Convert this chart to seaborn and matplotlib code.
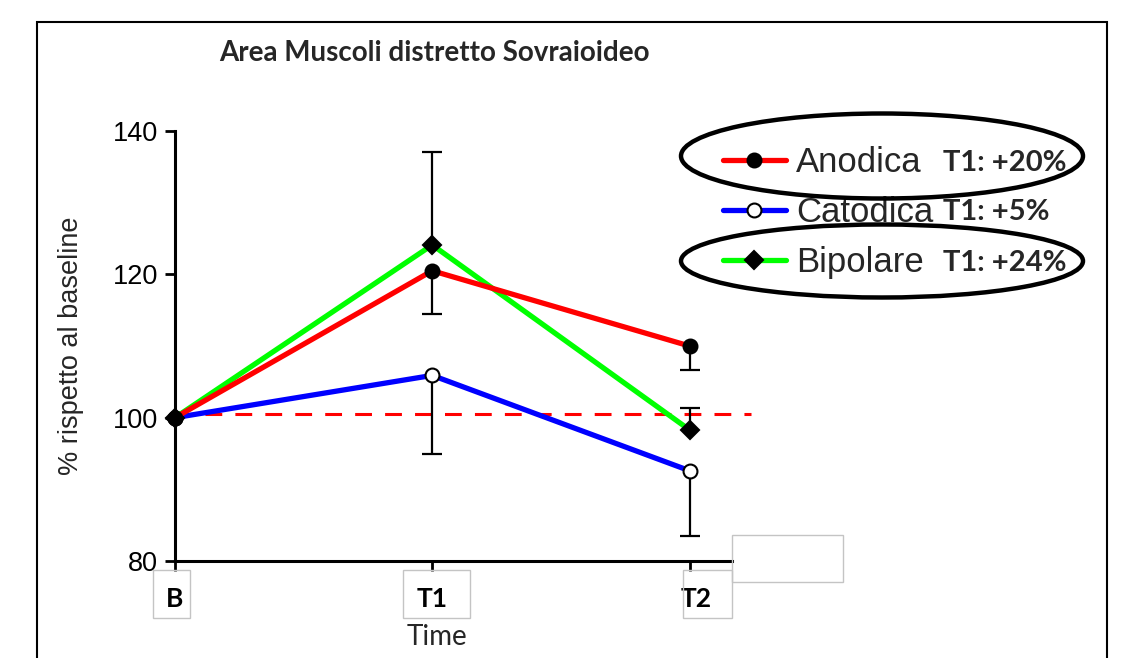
"""
plot.py

Area Muscoli distretto Sovraioideo - % rispetto al baseline per i tre
tipi di stimolazione (Anodica, Catodica, Bipolare) ai tempi B, T1, T2.

Run:
-----
python plot.py
"""

# =============================================================================
# IMPORTS
# =============================================================================

import numpy as np
import pandas as pd

import matplotlib.pyplot as plt
from matplotlib.patches import Ellipse, Rectangle
import seaborn as sns


# =============================================================================
# DATA
# =============================================================================

time_labels = ["B", "T1", "T2"]

anodica = [100.0, 120.5, 110.0]
catodica = [100.0, 105.9, 92.6]
bipolare = [100.0, 124.1, 98.3]

# one-sided error bars as drawn in the original (0 = not shown)
anodica_err_low = [0.0, 6.0, 3.4]
anodica_err_up = [0.0, 0.0, 0.0]
catodica_err_low = [0.0, 10.9, 9.1]
catodica_err_up = [0.0, 0.0, 0.0]
bipolare_err_low = [0.0, 0.0, 0.0]
bipolare_err_up = [0.0, 13.0, 3.0]

baseline_x = [0.0, 2.24]
baseline_y = [100.5, 100.5]

t1_notes = ["T1: +20%", "T1: +5%", "T1: +24%"]


# =============================================================================
# CONFIGURATION
# =============================================================================

sns.set_style("ticks")
plt.rcParams["font.family"] = ["Liberation Sans", "DejaVu Sans"]

TITLE_FONT = ["Lato", "DejaVu Sans"]

x_pos = np.arange(len(time_labels))

# small horizontal nudge of the T2 label, as in the original
label_nudge = np.array([0.0, 0.0, 0.027])

df = pd.DataFrame({
    "x": np.tile(x_pos, 3),
    "value": anodica + catodica + bipolare,
    "group": ["Anodica"] * 3 + ["Catodica"] * 3 + ["Bipolare"] * 3,
})

styles = {
    "Anodica": dict(color="#ff0000", marker="o", mfc="black", ms=10),
    "Catodica": dict(color="#0000ff", marker="o", mfc="white", ms=10),
    "Bipolare": dict(color="#00ff00", marker="D", mfc="black", ms=9),
}

errors = {
    "Anodica": (anodica_err_low, anodica_err_up),
    "Catodica": (catodica_err_low, catodica_err_up),
    "Bipolare": (bipolare_err_low, bipolare_err_up),
}


# =============================================================================
# FIGURE
# =============================================================================

fig = plt.figure(figsize=(11.28, 6.58), dpi=100)
ax = fig.add_axes([0.1551, 0.1474, 0.4938, 0.6535])

# error bars (below the lines): stems, then caps only where shown
for name in ["Catodica", "Bipolare", "Anodica"]:
    sub = df[df["group"] == name]
    low = np.array(errors[name][0])
    up = np.array(errors[name][1])
    xs = sub["x"].to_numpy()
    ys = sub["value"].to_numpy()
    ax.errorbar(xs, ys, yerr=[low, up], fmt="none", ecolor="black",
                elinewidth=1.6, capsize=0, zorder=2)
    ax.plot(xs[low > 0], (ys - low)[low > 0], linestyle="none",
            marker="_", markersize=14, markeredgewidth=1.6,
            color="black", zorder=2)
    ax.plot(xs[up > 0], (ys + up)[up > 0], linestyle="none",
            marker="_", markersize=14, markeredgewidth=1.6,
            color="black", zorder=2)

# lines with markers
for name in ["Catodica", "Bipolare", "Anodica"]:
    st = styles[name]
    sns.lineplot(
        data=df[df["group"] == name], x="x", y="value",
        ax=ax, color=st["color"], linewidth=3.8,
        marker=st["marker"], markersize=st["ms"],
        markerfacecolor=st["mfc"], markeredgecolor="black",
        markeredgewidth=1.5, label=name, legend=False,
        zorder=3, clip_on=False
    )

# dashed baseline
ax.plot(baseline_x, baseline_y, color="#ff0000", linewidth=2.2,
        dashes=(5.5, 4.3), zorder=1, clip_on=False)


# =============================================================================
# AXES STYLING
# =============================================================================

# major ticks carry the tick marks, minor ticks carry the labels
ax.xaxis.remove_overlapping_locs = False
ax.set_xticks(x_pos)
ax.set_xticklabels([])
ax.set_xticks(x_pos + label_nudge, minor=True)
ax.set_xticklabels(time_labels, minor=True, fontsize=19,
                   fontweight="bold", family=TITLE_FONT)
ax.set_yticks([80, 100, 120, 140])

ax.set_xlim(0, 2.165)
ax.set_ylim(80, 140)

ax.set_xlabel("")
ax.set_ylabel("% rispetto al baseline", fontsize=19.5, labelpad=21)

sns.despine(ax=ax)
for side in ["left", "bottom"]:
    ax.spines[side].set_linewidth(2.2)
    ax.spines[side].set_color("black")

ax.tick_params(axis="y", labelsize=19.5, length=7, width=2, pad=5,
               colors="black")
ax.tick_params(axis="x", which="major", length=7, width=2,
               colors="black")
ax.tick_params(axis="x", which="minor", length=0, pad=19,
               colors="black")


# =============================================================================
# LEGEND
# =============================================================================

handles, labels = ax.get_legend_handles_labels()
order = [labels.index(n) for n in ["Anodica", "Catodica", "Bipolare"]]

ax.legend(
    [handles[i] for i in order], [labels[i] for i in order],
    loc="center left", bbox_to_anchor=(0.641, 0.677),
    bbox_transform=fig.transFigure, frameon=False,
    fontsize=25, handlelength=1.8, handletextpad=0.3,
    labelspacing=0.5, borderpad=0, borderaxespad=0
)

for note, ypix in zip(t1_notes, [163, 212, 263]):
    fig.text(943 / 1128, 1 - ypix / 658, note, fontsize=21,
             fontweight="bold", family=TITLE_FONT,
             ha="left", va="center")

# highlight ellipses
for cy, h in [(156, 85), (261, 73)]:
    fig.patches.append(Ellipse(
        (882 / 1128, 1 - cy / 658), 402 / 1128, h / 658,
        transform=fig.transFigure, fill=False,
        edgecolor="black", linewidth=3.2
    ))


# =============================================================================
# TEXTS, BOXES AND FRAME
# =============================================================================

fig.text(434 / 1128, 1 - 53 / 658, "Area Muscoli distretto Sovraioideo",
         fontsize=20, fontweight="bold", family=TITLE_FONT,
         ha="center", va="center")

fig.text(437 / 1128, 1 - 637 / 658, "Time", fontsize=20,
         family=TITLE_FONT, ha="center", va="center")

for x0, y0, w, h in [(153, 570, 37, 48), (403, 570, 67, 48),
                     (683, 570, 49, 48), (732, 535, 111, 47)]:
    fig.patches.append(Rectangle(
        (x0 / 1128, 1 - (y0 + h) / 658), w / 1128, h / 658,
        transform=fig.transFigure, fill=False,
        edgecolor="#c4c4c4", linewidth=1.0
    ))

fig.patches.append(Rectangle(
    (37 / 1128, -0.05), (1107 - 37) / 1128, 1 - 22 / 658 + 0.05,
    transform=fig.transFigure, fill=False,
    edgecolor="black", linewidth=1.5, clip_on=False
))

plt.savefig("out.png", dpi=100)
plt.close()
